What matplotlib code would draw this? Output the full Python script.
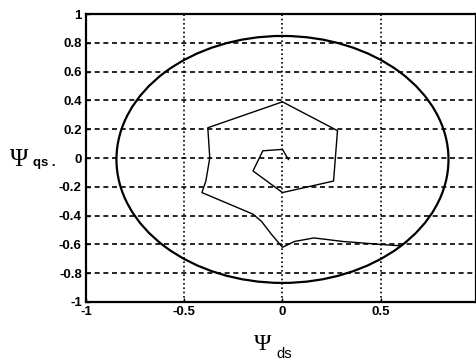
import matplotlib
matplotlib.use("Agg")
import matplotlib.pyplot as plt
from matplotlib.patches import Ellipse

# Flux trajectory (inner loop -> hexagon -> transition to circle)
path_x = [0.03, 0.0, -0.10, -0.15, 0.0, 0.26, 0.28, 0.0, -0.38, -0.37, -0.39, -0.41,
          -0.15, -0.107, -0.056, 0.0, 0.06, 0.16, 0.31, 0.50, 0.60]
path_y = [-0.01, 0.06, 0.05, -0.09, -0.24, -0.16, 0.19, 0.39, 0.21, 0.0, -0.16, -0.24,
          -0.39, -0.44, -0.53, -0.62, -0.58, -0.555, -0.58, -0.60, -0.61]

# Steady-state flux circle
circle_center = (0.0, -0.01)
circle_width = 1.69
circle_height = 1.715

xticks = [-1, -0.5, 0, 0.5]
xticklabels = ["-1", "-0.5", "0", "0.5"]
yticks = [-1, -0.8, -0.6, -0.4, -0.2, 0, 0.2, 0.4, 0.6, 0.8, 1]
yticklabels = ["-1", "-0.8", "-0.6", "-0.4", "-0.2", "0", "0.2", "0.4", "0.6", "0.8", "1"]

plt.rcParams['font.family'] = ['Liberation Sans', 'DejaVu Sans']

fig = plt.figure(figsize=(4.77, 3.64), dpi=100)
ax = fig.add_axes([86/477, 62/364, 390/477, 288/364])

ax.set_xlim(-1, 0.985)
ax.set_ylim(-1, 1)

# grid
for y in yticks[1:-1]:
    ax.axhline(y, color='black', lw=1.2, ls=(0, (3, 2.2)), zorder=1)
for x in xticks[1:]:
    ax.axvline(x, color='black', lw=1.2, ls=(0, (1, 1.6)), zorder=1)

ax.add_patch(Ellipse(circle_center, circle_width, circle_height, fill=False,
                     edgecolor='black', lw=1.6, zorder=3))
ax.plot(path_x, path_y, color='black', lw=1.0, zorder=3)

ax.set_xticks(xticks)
ax.set_xticklabels(xticklabels)
ax.set_yticks(yticks)
ax.set_yticklabels(yticklabels)
ax.tick_params(direction='in', length=3, width=1, labelsize=9.5, pad=3)
for lab in ax.get_xticklabels() + ax.get_yticklabels():
    lab.set_fontweight('bold')
for s in ax.spines.values():
    s.set_linewidth(1.6)

fig.text(10/477, 1 - 160/364, 'Ψ', fontsize=18, family='Liberation Serif',
         ha='left', va='center')
fig.text(33/477, 1 - 163/364, 'qs .', fontsize=9.5, family='Liberation Sans',
         fontweight='bold', ha='left', va='center')
fig.text(254/477, 1 - 344/364, 'Ψ', fontsize=17, family='Liberation Serif',
         ha='left', va='center')
fig.text(276/477, 1 - 354/364, 'ds', fontsize=10.5, family='Liberation Sans',
         ha='left', va='center')

fig.savefig('out.png', dpi=100)
